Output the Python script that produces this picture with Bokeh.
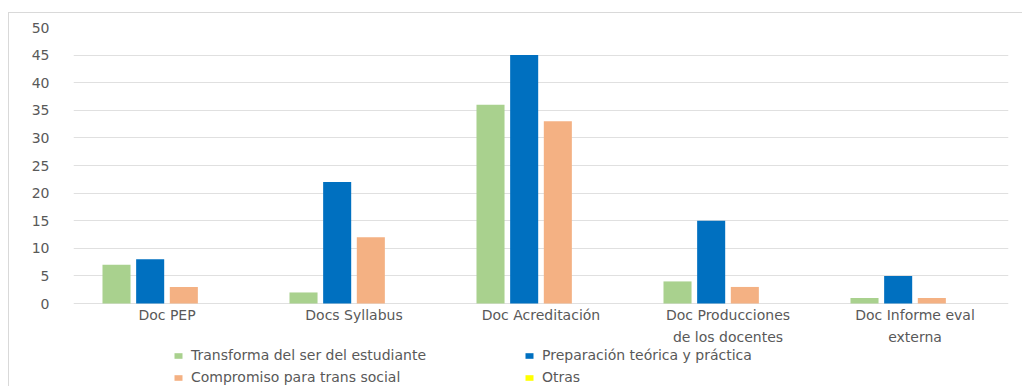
from bokeh.plotting import figure
from bokeh.models import ColumnDataSource, FactorRange, Range1d, FixedTicker, Legend, LegendItem
from bokeh.core.properties import value
from bokeh.transform import dodge
from bokeh.embed import file_html
from bokeh.resources import INLINE

categories = ["Doc PEP", "Docs Syllabus", "Doc Acreditación",
              "Doc Producciones\nde los docentes", "Doc Informe eval\nexterna"]
series_names = ["Transforma del ser del estudiante", "Preparación teórica y práctica",
                "Compromiso para trans social", "Otras"]
transforma = [7, 2, 36, 4, 1]
preparacion = [8, 22, 45, 15, 5]
compromiso = [3, 12, 33, 3, 1]
otras = [0, 0, 0, 0, 0]
y_ticks = [0, 5, 10, 15, 20, 25, 30, 35, 40, 45, 50]

colors = ["#A9D18E", "#0070C0", "#F4B183", "#FFFF00"]
FONT = "DejaVu Sans"
TXT = "#595959"

source = ColumnDataSource(dict(cat=categories, s0=transforma, s1=preparacion,
                               s2=compromiso, s3=otras, base=[0] * len(categories)))

# frame runs to the bottom of the canvas; the space below 0 holds labels and legend
y_bottom = -50 * 84 / 276
p = figure(x_range=FactorRange(factors=categories), y_range=Range1d(y_bottom, 50),
           width=1014, height=374, output_backend="svg", toolbar_location=None,
           min_border_left=64, min_border_right=15, min_border_top=14, min_border_bottom=0)
p.margin = (12, 0, 0, 8)
p.styles = {"border-top": "1px solid #D9D9D9", "border-left": "1px solid #D9D9D9"}
p.outline_line_color = None
p.xaxis.visible = False

offsets = [-0.27, -0.09, 0.09, 0.27]
renderers = []
for i, off in enumerate(offsets):
    r = p.vbar(x=dodge("cat", off, range=p.x_range), top=f"s{i}", width=0.15,
               source=source, fill_color=colors[i], line_color=None)
    renderers.append(r)

p.text(x="cat", y="base", text="cat", source=source, y_offset=3,
       text_align="center", text_baseline="top", text_line_height=1.4,
       text_font=value(FONT), text_font_size="14px", text_color=TXT)

p.yaxis.ticker = FixedTicker(ticks=y_ticks)
p.yaxis.axis_line_color = None
p.yaxis.major_tick_line_color = None
p.yaxis.minor_tick_line_color = None
p.yaxis.major_label_standoff = 18
p.yaxis.major_label_text_font = FONT
p.yaxis.major_label_text_font_size = "14px"
p.yaxis.major_label_text_color = TXT

p.xgrid.grid_line_color = None
p.ygrid.grid_line_color = "#E0E0E0"
p.ygrid.grid_line_width = 1

def make_legend(idx, loc):
    lg = Legend(items=[LegendItem(label=series_names[i], renderers=[renderers[i]]) for i in idx],
                location=loc, orientation="vertical", padding=0, spacing=6,
                glyph_width=10, glyph_height=7, label_height=16, label_standoff=8,
                label_text_font=FONT, label_text_font_size="14px", label_text_color=TXT,
                border_line_color=None, background_fill_alpha=0, margin=0)
    p.add_layout(lg, "center")

make_legend([0, 2], (100, 2))
make_legend([1, 3], (451, 2))

open("out.html", "w").write(file_html(p, INLINE))
